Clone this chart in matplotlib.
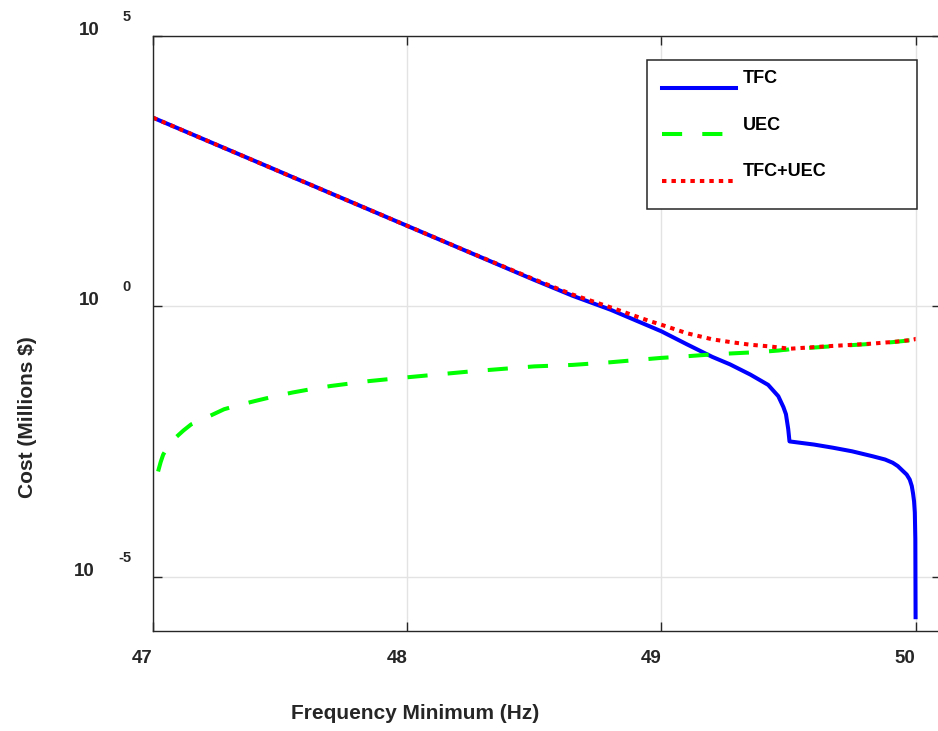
import numpy as np
import matplotlib
matplotlib.use("Agg")
import matplotlib.pyplot as plt
from matplotlib.legend_handler import HandlerLine2D
from matplotlib.lines import Line2D
from matplotlib.patches import Rectangle

plt.rcParams["font.family"] = ["Liberation Sans", "DejaVu Sans"]
plt.rcParams["font.weight"] = "bold"
plt.rcParams["axes.labelweight"] = "bold"

# values (cost in millions $)
freq = [47.00, 47.02, 47.03, 47.04, 47.06, 47.09, 47.12, 47.15, 47.22, 47.28,
        47.34, 47.40, 47.48, 47.55, 47.62, 47.70, 47.85, 48.00, 48.25, 48.50,
        48.65, 48.80, 48.95, 49.00, 49.10, 49.20, 49.27, 49.35, 49.42, 49.46,
        49.48, 49.49, 49.499, 49.504, 49.60, 49.674, 49.75, 49.831, 49.88, 49.91,
        49.93, 49.95, 49.965, 49.977, 49.985, 49.99, 49.994, 49.997, 49.999, 50.00]
tfc = [3090, 2818, 2692, 2570, 2344, 2042, 1778, 1549, 1122, 851,
       646, 490, 339, 245, 178, 123, 61.7, 30.9, 9.77, 3.09,
       1.58, 0.87, 0.437, 0.347, 0.20, 0.117, 0.085, 0.055, 0.0355, 0.0219,
       0.0138, 0.0102, 0.0054, 0.0032, 0.0028, 0.00245, 0.0021, 0.0017, 0.00148, 0.00129,
       0.00112, 0.00091, 0.00078, 0.00063, 0.00048, 0.00035, 0.00025, 0.000155, 5e-5, 1.8e-6]
uec = [np.nan, 8.9e-4, 1.32e-3, 1.82e-3, 2.63e-3, 3.8e-3, 5.1e-3, 6.6e-3, 9.3e-3, 0.0126,
       0.0151, 0.0178, 0.0219, 0.0257, 0.0295, 0.0339, 0.0417, 0.049, 0.063, 0.078,
       0.083, 0.093, 0.107, 0.112, 0.120, 0.130, 0.135, 0.141, 0.148, 0.153,
       0.157, 0.158, 0.160, 0.162, 0.174, 0.184, 0.193, 0.204, 0.214, 0.219,
       0.224, 0.229, 0.234, 0.237, 0.240, 0.243, 0.245, 0.248, 0.251, 0.251]

x_ticks = [47, 48, 49, 50]
y_ticks = [1e-5, 1e0, 1e5]
y_exponents = ["-5", "0", "5"]

tfc_uec = np.array(tfc) + np.nan_to_num(np.array(uec))

DARK = "#262626"


class HandlerLowLine(HandlerLine2D):
    # the original legend draws the sample line below the label text
    def create_artists(self, legend, orig_handle, xdescent, ydescent,
                       width, height, fontsize, trans):
        drop = 0.62 * fontsize
        return super().create_artists(legend, orig_handle, xdescent,
                                       ydescent + 2 * drop, width, height,
                                       fontsize, trans)


fig = plt.figure(figsize=(9.38, 7.31), dpi=100)
ax = fig.add_axes([153 / 938, 1 - 631 / 731, 788 / 938, 595 / 731])

ax.plot(freq, tfc, color="#0000ff", lw=2.9, label="TFC")
ax.plot(freq, uec, color="#00ff00", lw=2.9, ls=(0, (5, 5)), label="UEC")
ax.plot(freq, tfc_uec, color="#ff0000", lw=2.9, ls=(0, (1.1, 1.25)),
        label="TFC+UEC")

ax.set_yscale("log")
ax.set_xlim(47, 50.1)
ax.set_ylim(1e-6, 1e5)
ax.set_xticks(x_ticks)
ax.set_xticklabels([str(t) for t in x_ticks], ha="right")
ax.set_yticks(y_ticks)
ax.minorticks_off()
ax.tick_params(direction="in", length=6.5, width=1, top=True, right=True,
               colors=DARK, labelsize=13.5, labelleft=False, pad=14)
ax.grid(True, color="#e3e3e3", lw=1)
ax.set_axisbelow(True)
for sp in ax.spines.values():
    sp.set_color(DARK)
    sp.set_linewidth(1)

# tick labels on the log axis: "10" with a detached exponent
for val, ex in zip(y_ticks, y_exponents):
    exp_txt = ax.annotate(ex, xy=(0, val), xycoords=("axes fraction", "data"),
                          xytext=(-22, 15), textcoords="offset pixels",
                          ha="right", va="baseline", fontsize=10.5, color=DARK)
    ax.annotate("10", xy=(0, 0), xycoords=exp_txt, xytext=(-23, -11),
                textcoords="offset pixels", ha="right", va="baseline",
                fontsize=13.5, color=DARK)

ax.set_xlabel("Frequency Minimum (Hz)", fontsize=15, color=DARK)
ax.xaxis.set_label_coords(0.3325, -0.1227)
ax.set_ylabel("Cost (Millions $)", fontsize=15, color=DARK)
ax.yaxis.set_label_coords(-0.1466, 0.359)

ax.add_patch(Rectangle((0.6269, 0.7092), 0.3426, 0.2505, transform=ax.transAxes,
                       facecolor="white", edgecolor=DARK, lw=1.1, zorder=4))
ax.legend(loc="upper left", bbox_to_anchor=(0.6459, 0.9429), frameon=False,
          fontsize=13, handlelength=4.1, handletextpad=0.39, labelspacing=1.64,
          borderpad=0, borderaxespad=0,
          handler_map={Line2D: HandlerLowLine()}).set_zorder(5)

fig.savefig("out.png", dpi=100)
